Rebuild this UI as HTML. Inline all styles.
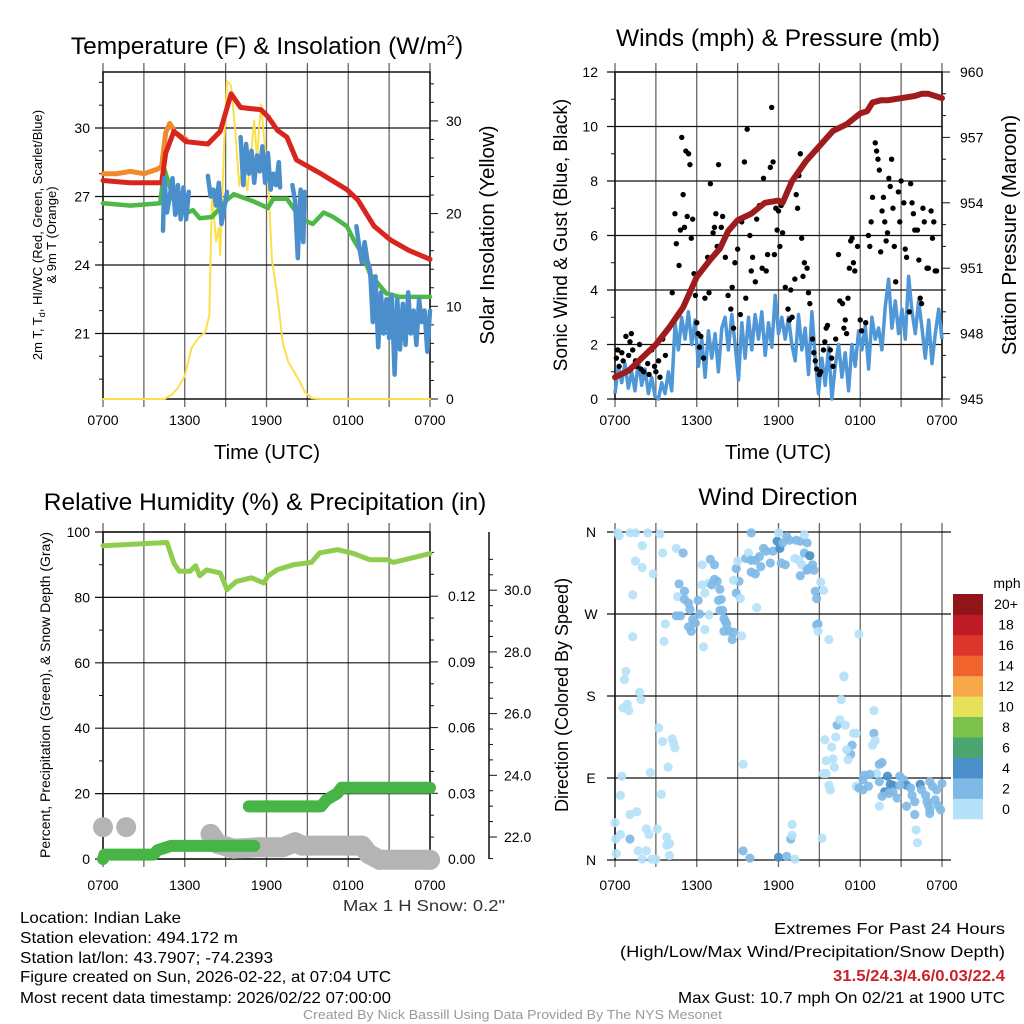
<!DOCTYPE html>
<html><head><meta charset="utf-8"><style>
html,body{margin:0;padding:0;background:#fff;}
svg{display:block;font-family:"Liberation Sans",Arial,sans-serif;}
</style></head><body>
<svg id="fig" width="1024" height="1024" viewBox="0 0 1024 1024" xmlns="http://www.w3.org/2000/svg">
<rect width="1024" height="1024" fill="#fff"/>
<g id="p1"></g>
<g id="p2"></g>
<g id="p3"></g>
<g id="p4"></g>
<g id="txt" lengthAdjust="spacingAndGlyphs">
<text x="343" y="911" font-size="16" fill="#333" textLength="162" lengthAdjust="spacingAndGlyphs">Max 1 H Snow: 0.2"</text>
<text x="20" y="923" font-size="16" textLength="161" lengthAdjust="spacingAndGlyphs">Location: Indian Lake</text>
<text x="20" y="943" font-size="16" textLength="218" lengthAdjust="spacingAndGlyphs">Station elevation: 494.172 m</text>
<text x="20" y="963" font-size="16" textLength="253" lengthAdjust="spacingAndGlyphs">Station lat/lon: 43.7907; -74.2393</text>
<text x="20" y="982" font-size="16" textLength="371" lengthAdjust="spacingAndGlyphs">Figure created on Sun, 2026-02-22, at 07:04 UTC</text>
<text x="20" y="1003" font-size="16" textLength="371" lengthAdjust="spacingAndGlyphs">Most recent data timestamp: 2026/02/22 07:00:00</text>
<text x="774" y="934" font-size="16" textLength="231" lengthAdjust="spacingAndGlyphs">Extremes For Past 24 Hours</text>
<text x="620" y="957" font-size="16" textLength="385" lengthAdjust="spacingAndGlyphs">(High/Low/Max Wind/Precipitation/Snow Depth)</text>
<text x="833" y="981" font-size="16" font-weight="bold" fill="#c8232b" textLength="172" lengthAdjust="spacingAndGlyphs">31.5/24.3/4.6/0.03/22.4</text>
<text x="678" y="1003" font-size="16" textLength="327" lengthAdjust="spacingAndGlyphs">Max Gust: 10.7 mph On 02/21 at 1900 UTC</text>
<text x="303" y="1019" font-size="12.5" fill="#999" textLength="419" lengthAdjust="spacingAndGlyphs">Created By Nick Bassill Using Data Provided By The NYS Mesonet</text>
</g>
</svg>
<script>
// ---------- DATA (hours since 0700 UTC) ----------
const timeTicks = ["0700","1300","1900","0100","0700"];
const redH = [0,2,4,4.3,4.6,5.2,6.1,7.7,8.6,9.4,10.1,11.6,12.1,12.8,13.5,14.2,16.0,17.9,18.7,19.9,21.1,22.4,24];
const redT = [27.7,27.6,27.6,27.6,28.9,29.85,29.4,29.3,29.85,31.5,30.9,30.8,30.5,29.9,29.6,28.6,28.0,27.3,26.85,25.7,25.1,24.65,24.25];
const orangeH = [0,1,2,3,4,4.3,4.6,4.9,5.3,6.1];
const orangeT = [28.0,28.0,28.1,28.0,28.2,28.3,29.8,30.2,29.8,29.5];
const greenH = [0,2,4.2,4.5,5.5,6.2,6.6,7.1,8.0,9.1,9.6,11.0,12.1,12.5,13.5,14.2,14.6,15.4,16.2,16.9,17.9,18.4,19.1,19.6,20.8,21.8,24];
const greenT = [26.7,26.6,26.7,28.2,26.3,26.3,26.4,26.05,26.1,26.85,27.1,26.8,26.5,26.9,26.9,26.3,26.0,25.8,26.3,26.1,25.7,25.1,24.4,23.6,22.75,22.6,22.6];
const blueH = [4.4,4.5,4.7,4.9,5.1,5.3,5.5,5.7,5.9,6.1,6.3,null,7.7,7.9,8.1,8.3,8.5,8.7,8.9,9.1,null,10.1,10.3,10.5,10.7,10.9,11.1,11.3,11.5,11.7,11.9,12.1,12.3,12.5,12.7,12.9,13.0,null,13.9,14.1,14.3,14.5,14.7,14.8,null,18.6,18.8,19.0,19.2,19.4,19.6,19.8,20.0,20.2,20.4,20.6,20.8,21.0,21.2,21.4,21.6,21.8,22.0,22.2,22.4,22.6,22.8,23.0,23.2,23.4,23.6,23.8,24.0];
const blueT = [25.5,27.8,26.3,27.0,27.8,26.2,27.5,26.0,27.4,26.0,27.2,null,27.9,27.0,27.3,26.6,27.6,25.8,26.5,27.2,null,29.6,27.5,29.3,28.0,29.0,27.6,28.8,28.1,29.2,27.6,28.9,27.3,28.0,27.5,28.5,27.4,null,27.5,26.8,24.3,27.3,25.0,27.2,null,25.7,24.8,24.1,25.0,24.2,23.8,21.5,23.5,20.4,22.8,21.0,22.5,20.8,22.7,19.2,22.5,20.3,22.3,20.5,22.8,21.0,22.0,20.5,22.5,21.5,22.0,20.2,22.0];
const solarH = [0,4.5,5.0,5.5,6.0,6.5,7.0,7.5,7.8,8.0,8.3,8.5,8.6,8.9,9.1,9.4,9.7,10.0,10.3,10.6,10.9,11.1,11.3,11.6,11.9,12.1,12.4,12.8,13.2,13.6,14.0,14.4,14.8,15.3,16,24];
const solarV = [0,0,0.4,1.2,2.5,5.5,6.6,7.2,9,22,17,18.5,15.5,28,34.3,33.8,29,23,25.5,22.5,27,30,26,31.8,27,24,15,11,6,4,3,2,0.8,0.1,0,0];

const presH = [0,1,2,3,4,5,6,6.5,7,7.7,8,8.3,9,10,11,12,12.3,13,14,15,16,17,18,18.5,18.9,19.5,20,21,22,22.5,23,24];
const presV = [946.0,946.3,946.9,947.5,948.3,949.2,950.6,951.0,951.4,951.9,952.3,952.7,953.2,953.5,954.0,954.1,954.0,955.0,955.9,956.6,957.3,957.6,958.1,958.2,958.6,958.7,958.7,958.8,958.9,959.0,959.0,958.8];
const windV = [0.2,1.2,0.6,1.3,0.4,1.0,0.3,1.4,0.5,1.1,0.2,0.8,0.1,0.0,0.6,0.2,1.0,0.3,
 2.8,1.8,3.0,2.2,3.2,2.0,2.9,1.2,2.2,0.8,2.5,1.5,
 2.4,1.0,2.6,3.0,1.8,3.1,2.0,0.7,2.8,
 1.5,3.0,1.8,3.1,2.2,3.2,1.6,2.8,1.9,3.8,2.4,3.0,
 2.2,3.0,2.0,1.4,3.1,1.8,2.6,0.9,3.2,1.5,
 0.2,1.5,0.5,1.9,0.0,1.2,2.0,0.8,1.7,0.3,
 2.0,1.2,2.5,1.8,2.7,1.1,3.0,2.2,2.6,1.8,
 3.4,4.4,2.6,3.6,2.4,3.3,2.2,4.5,
 3.2,2.4,3.6,2.6,1.5,2.9,1.3,2.4,3.3,2.2];
const gustH = [0.1,0.2,0.3,0.5,0.6,0.8,1.0,1.1,1.2,1.3,1.5,1.6,1.8,1.9,2.1,2.2,2.4,2.5,2.7,2.9,3.0,3.2,3.3,3.5,3.7,
 4.2,4.4,4.5,4.7,4.8,4.9,5.0,5.1,5.2,5.3,5.4,5.5,5.6,5.7,5.8,5.9,6.0,6.1,6.2,6.3,6.5,6.6,6.8,6.9,7.0,7.2,7.3,
 7.4,7.5,7.6,7.8,7.9,8.1,8.3,8.5,8.6,8.7,8.8,9.0,9.2,9.3,9.5,9.6,9.7,9.9,10.0,10.1,10.3,10.4,10.6,10.8,10.9,
 11.1,11.2,11.4,11.5,11.6,11.7,11.9,11.8,12.0,12.1,12.2,12.3,12.5,12.7,12.8,12.9,13.0,13.2,13.3,13.4,13.5,13.6,13.7,13.8,13.9,14.1,
 14.2,14.3,14.5,14.6,14.7,14.8,15.0,15.1,15.3,15.4,15.5,15.6,15.8,15.9,16.0,16.2,16.4,16.5,16.7,16.8,16.9,17.0,17.1,17.2,17.3,17.4,17.5,17.6,17.8,18.0,18.1,
 18.4,18.6,18.7,18.8,18.9,19.1,19.2,19.3,19.4,19.5,19.6,19.7,19.8,19.9,20.0,20.1,20.2,20.3,20.4,20.5,20.6,20.8,20.9,21.0,21.2,21.3,21.4,21.6,21.7,21.8,21.9,22.0,22.2,22.3,22.4,22.5,22.6,22.7,22.9,23.0,23.2,23.3,23.4,23.5,23.6];
const gustV = [1.5,1.8,1.2,1.7,1.4,2.3,1.6,2.1,2.4,1.8,1.4,1.2,2.0,1.1,1.0,1.6,1.3,0.9,1.8,1.2,1.0,1.4,0.8,2.2,1.6,
 3.9,6.8,5.7,4.9,6.2,9.6,7.5,6.3,9.1,6.7,9.0,8.6,5.9,6.6,4.6,3.8,2.8,2.4,1.9,2.3,1.5,3.7,5.2,3.9,7.9,6.1,6.3,
 6.8,5.6,8.6,6.3,6.7,5.2,3.8,3.3,4.1,2.6,5.0,5.5,3.1,6.5,8.7,3.7,9.9,6.0,4.7,5.2,4.3,6.6,7.1,4.8,8.1,
 4.7,5.3,8.5,10.7,8.7,5.3,6.2,7.0,6.9,5.6,7.1,6.1,4.1,3.3,2.9,4.0,3.0,4.4,7.5,7.0,8.2,9.0,5.9,4.5,5.0,4.8,
 3.9,3.5,2.2,1.7,1.4,1.1,0.9,1.0,1.8,2.1,2.6,2.7,1.8,1.5,1.2,2.2,5.3,3.6,3.5,2.6,2.9,2.4,3.7,4.8,5.8,5.9,5.0,4.7,5.6,2.9,2.5,
 2.8,6.0,5.6,6.5,7.4,9.4,9.1,8.8,8.4,5.4,6.9,7.4,6.5,5.8,6.1,8.1,7.8,8.8,7.0,5.6,4.3,7.6,6.5,8.0,7.2,5.5,5.2,3.2,7.9,7.2,6.8,6.2,6.2,5.1,3.7,3.5,7.0,6.5,4.8,4.8,6.9,5.9,6.5,4.7,4.7];

const rhH = [0,4.7,5.2,5.6,6.4,6.8,7.1,7.6,8.6,9.1,9.8,10.9,11.8,12.1,12.8,14.0,15.3,15.9,17.2,18.4,19.6,20.9,21.3,22.6,24];
const rhV = [95.8,96.8,90.5,88,88,89.7,86.6,88.4,87.5,82.4,84.9,86,84.4,86.5,88.5,90,90.7,93.6,94.6,93.4,91.5,91.5,90.7,92,93.4];
const precipH = [0,0.1,3.7,4.0,4.5,5.0,11.1,null,10.7,16.0,16.4,17.2,17.5,24];
const precipV = [0,0.002,0.002,0.004,0.005,0.006,0.006,null,0.024,0.024,0.027,0.030,0.0325,0.0325];
const snowH = [0,null,1.7,null,7.9,8.4,9.6,11.5,13.2,14.1,14.6,19.0,19.5,20.3,24];
const snowV = [22.32,null,22.32,null,22.1,21.78,21.62,21.67,21.67,21.83,21.72,21.72,21.45,21.26,21.26];

const dirH = [0.2,0.3,1.1,1.5,2.4,3.3,2.0,3.5,1.5,2.0,2.8,4.5,5.0,1.3,3.7,1.3,3.6,0.8,0.7,1.8,1.9,0.9,0.6,1.0,3.2,3.5,4.2,4.3,4.4,3.9,2.6,0.5,0.4,3.4,1.1,1.6,0.0,0.4,0.05,1.1,2.3,2.5,3.1,3.8,4.0,3.8,1.7,2.3,0.1,2.0,2.7,3.0,4.0,
 4.7,5.1,4.6,5.1,5.4,4.8,4.5,5.5,5.7,5.4,5.6,5.9,6.2,6.1,6.4,6.6,6.9,7.1,7.3,7.5,7.7,7.6,7.8,7.7,7.9,6.9,6.6,6.5,8.0,8.1,8.2,8.0,8.4,8.7,8.6,9.3,6.4,7.0,7.3,
 8.9,9.1,8.9,8.7,9.2,9.0,9.6,9.8,10.0,10.3,10.6,10.9,11.1,10.7,10.0,10.3,11.4,11.6,11.9,12.1,12.2,12.5,12.3,12.6,12.8,13.3,13.6,14.1,13.9,12.0,10.0,10.4,13.2,13.5,13.7,13.9,14.3,14.2,14.5,14.6,14.1,13.6,14.7,14.8,14.8,14.9,15.1,15.3,15.7,14.9,9.4,9.4,9.9,12.0,12.6,13.2,12.9,13.0,13.0,15.2,
 17.9,16.8,16.8,16.6,16.3,16.5,16.9,17.5,17.7,17.4,17.3,17.1,17.0,16.2,15.9,16.0,16.1,15.5,15.4,15.3,15.5,15.7,15.8,19.0,19.0,19.1,18.9,19.4,19.6,19.2,17.7,17.9,18.2,18.3,18.7,18.6,18.2,19.4,20.0,20.2,20.4,19.8,20.1,19.6,20.7,20.9,21.2,21.4,21.7,21.8,22.0,22.4,22.5,22.8,22.9,23.1,23.3,23.6,23.5,23.7,24.0,23.9,23.1,23.0,21.4,22.0,23.1,22.1,22.2,19.4,20.9,20.4];
const dirDeg = [359,356,359,359,359,358,345,337,328,321,314,342,337,291,259,245,240,207,198,184,176,171,167,164,145,130,133,128,123,102,96,92,71,72,50,53,41,28,23,23,34,28,34,25,18,16,10,10,7,1,1,1,5,
 303,295,289,286,282,268,268,275,264,256,251,260,270,285,302,293,304,302,308,306,297,285,286,274,274,269,253,234,265,262,259,251,251,250,242,246,324,330,324,
 320,306,293,307,287,328,331,337,329,329,333,342,339,322,316,314,326,339,350,342,326,324,348,355,351,351,350,348,357,359,359,277,331,329,324,337,334,320,324,318,318,312,295,287,258,259,305,296,242,251,105,10,2,3,4,1,23,27,39,24,
 248,201,202,176,148,154,148,139,139,126,116,110,121,135,124,111,102,109,132,95,95,82,77,164,139,131,126,105,107,95,81,79,88,93,94,81,77,86,92,83,82,75,73,70,68,92,88,82,79,71,64,83,77,71,64,86,81,77,66,60,84,55,55,60,59,50,51,33,19,59,82,75];
const dirSpd = [1,1,1,1,1,1,1,1,1,1,1,1,3,1,1,1,1,1,1,1,1,1,1,1,1,1,1,1,1,1,1,1,1,1,1,1,1,1,1,3,1,1,1,1,1,1,1,1,1,1,1,1,1,
 3,3,1,3,3,3,3,3,3,3,3,3,3,3,1,1,1,3,3,3,3,3,3,3,3,1,1,1,3,3,3,3,3,3,3,1,1,3,3,
 3,3,3,1,1,1,3,1,3,3,3,3,3,3,3,3,3,3,4.5,4.5,3,3,3,3,3,3,3,3,1,1,3,1,1,1,1,3,4.5,3,3,3,3,3,3,3,3,3,1,1,1,1,1,3,3,4.5,3,1,3,1,1,1,
 1,1,1,1,3,1,1,1,1,3,3,1,1,1,1,1,1,1,1,1,1,1,1,1,3,1,1,3,3,1,1,3,3,3,3,3,3,3,4.5,4.5,4.5,4.5,3,3,3,3,3,4.5,3,3,3,4.5,3,3,3,3,3,3,3,3,3,3,3,3,3,3,3,1,1,1,3,3,3];
const cbarLabels = ["0","2","4","6","8","10","12","14","16","18","20+"];
const cbarColors = ["#b5e2f8","#7fbae6","#4a8fc7","#4aa56f","#7cc14c","#e7e15a","#f7a848","#f0632d","#dd352b","#bd1c26","#8f1519"];

// ---------- helpers ----------
const NS="http://www.w3.org/2000/svg";
function mk(parent,tag,attrs,text){const e=document.createElementNS(NS,tag);for(const k in attrs)e.setAttribute(k,attrs[k]);if(text!==undefined)e.textContent=text;parent.appendChild(e);return e;}
function pathD(xs,ys,fx,fy){let d="",pen=false;for(let i=0;i<xs.length;i++){if(xs[i]===null||ys[i]===null){pen=false;continue;}d+=(pen?"L":"M")+fx(xs[i]).toFixed(1)+","+fy(ys[i]).toFixed(1);pen=true;}return d;}
const W=327;
function vgrid(g,x0,yTop,yBot){for(let k=0;k<=8;k++){const x=x0+k*W/8;const l=mk(g,"line",{x1:x,x2:x,y1:yTop,y2:yBot,stroke:"#666","stroke-width":1.3});}}
function xLabels(g,x0,y,fs){timeTicks.forEach((t,i)=>{const e=mk(g,"text",{x:x0+i*W/4,y:y,"font-size":fs,"text-anchor":"middle"},t);});}

// ---------- Panel 1 ----------
(function(){
const g=document.getElementById("p1");
const X=h=>103+h*W/24, yT=t=>128+(30-t)*22.83, yS=s=>399-s*9.27;
mk(g,"text",{x:267,y:54,"font-size":24.5,"text-anchor":"middle",}).innerHTML='Temperature (F) &amp; Insolation (W/m<tspan dy="-9" font-size="15">2</tspan><tspan dy="9">)</tspan>';
vgrid(g,103,63,407);
[21,24,27,30].forEach(t=>{mk(g,"line",{x1:95,x2:430,y1:yT(t),y2:yT(t),stroke:"#111","stroke-width":1.2});const e=mk(g,"text",{x:90,y:yT(t)+5,"font-size":14,"text-anchor":"end"},String(t));});
for(let t=19;t<=32;t++){mk(g,"line",{x1:99,x2:103,y1:yT(t),y2:yT(t),stroke:"#111"});}
for(let s=0;s<=34;s+=2){const big=s%10===0;mk(g,"line",{x1:430,x2:big?438:434,y1:yS(s),y2:yS(s),stroke:"#111"});if(big){const e=mk(g,"text",{x:446,y:yS(s)+5,"font-size":14},String(s));}}
mk(g,"rect",{x:103,y:72,width:W,height:327,fill:"none",stroke:"#111","stroke-width":1.5,});
const add=(xs,ys,fy,c,w,n)=>{const p=mk(g,"path",{d:pathD(xs,ys,X,fy),fill:"none",stroke:c,"stroke-width":w,"stroke-linejoin":"round","stroke-linecap":"round"});};
add(solarH,solarV,yS,"#fbe04c",2,"solar-insolation-line");
add(orangeH,orangeT,yT,"#f08a2c",5,"temp-9m-line");
add(greenH,greenT,yT,"#4cb845",4.5,"dewpoint-line");
add(redH,redT,yT,"#d8261f",5,"temp-2m-line");
add(blueH,blueT,yT,"#4a8fcc",4.5,"windchill-line");
xLabels(g,103,425,14);
mk(g,"text",{x:267,y:459,"font-size":20.5,"text-anchor":"middle",},"Time (UTC)");
mk(g,"text",{transform:"translate(42,235) rotate(-90)","font-size":13,"text-anchor":"middle",}).innerHTML='2m T, T<tspan dy="3" font-size="9">d</tspan><tspan dy="-3">, HI/WC (Red, Green, Scarlet/Blue)</tspan>';
mk(g,"text",{transform:"translate(56,235) rotate(-90)","font-size":13,"text-anchor":"middle",},"& 9m T (Orange)");
mk(g,"text",{transform:"translate(494,235) rotate(-90)","font-size":20.5,"text-anchor":"middle",},"Solar Insolation (Yellow)");
})();

// ---------- Panel 2 ----------
(function(){
const g=document.getElementById("p2");
const X=h=>615+h*W/24, yW=v=>399-v*27.25, yP=p=>399-(p-945)*21.8;
mk(g,"text",{x:778,y:46,"font-size":24.5,"text-anchor":"middle",},"Winds (mph) & Pressure (mb)");
vgrid(g,615,63,407);
for(let v=0;v<=12;v++){const big=v%2===0;if(big){mk(g,"line",{x1:607,x2:942,y1:yW(v),y2:yW(v),stroke:"#111","stroke-width":1.2});const e=mk(g,"text",{x:598,y:yW(v)+5,"font-size":14,"text-anchor":"end"},String(v));}else mk(g,"line",{x1:611,x2:615,y1:yW(v),y2:yW(v),stroke:"#111"});}
for(let p=945;p<=960;p++){const big=(p-945)%3===0;mk(g,"line",{x1:942,x2:big?950:946,y1:yP(p),y2:yP(p),stroke:"#111"});if(big){const e=mk(g,"text",{x:960,y:yP(p)+5,"font-size":14},String(p));}}
mk(g,"rect",{x:615,y:72,width:W,height:327,fill:"none",stroke:"#111","stroke-width":1.5,});
const wH=windV.map((v,i)=>i*24/(windV.length-1));
const wl=mk(g,"path",{d:pathD(wH,windV,X,yW),fill:"none",stroke:"#4f97d6","stroke-width":3.5,"stroke-linejoin":"round"});


gustH.forEach((h,i)=>{const c=mk(g,"circle",{cx:X(h),cy:yW(gustV[i]),r:2.7,fill:"#000"});});
const pl=mk(g,"path",{d:pathD(presH,presV,X,yP),fill:"none",stroke:"#a01b1d","stroke-width":6,"stroke-linejoin":"round","stroke-linecap":"round"});


xLabels(g,615,425,14);
mk(g,"text",{x:778,y:459,"font-size":20.5,"text-anchor":"middle",},"Time (UTC)");
mk(g,"text",{transform:"translate(567,235) rotate(-90)","font-size":19,"text-anchor":"middle",},"Sonic Wind & Gust (Blue, Black)");
mk(g,"text",{transform:"translate(1016,235) rotate(-90)","font-size":20.5,"text-anchor":"middle",},"Station Pressure (Maroon)");
})();

// ---------- Panel 3 ----------
(function(){
const g=document.getElementById("p3");
const X=h=>103+h*W/24, yR=r=>859-r*3.27, yPr=p=>859-p*2190, ySn=s=>837-(s-22)*30.85;
mk(g,"text",{x:265,y:510,"font-size":24.5,"text-anchor":"middle",},"Relative Humidity (%) & Precipitation (in)");
vgrid(g,103,523,867);
for(let r=0;r<=100;r+=10){const big=r%20===0;if(big){mk(g,"line",{x1:95,x2:430,y1:yR(r),y2:yR(r),stroke:"#111","stroke-width":1.2});const e=mk(g,"text",{x:90,y:yR(r)+5,"font-size":14,"text-anchor":"end"},String(r));}else mk(g,"line",{x1:99,x2:103,y1:yR(r),y2:yR(r),stroke:"#111"});}
for(let k=0;k<=14;k++){const p=k*0.01;const big=k%3===0;mk(g,"line",{x1:430,x2:big?438:434,y1:yPr(p),y2:yPr(p),stroke:"#111"});if(big){const e=mk(g,"text",{x:448,y:yPr(p)+5,"font-size":14},p.toFixed(2));}}
mk(g,"line",{x1:489,x2:489,y1:532,y2:859,stroke:"#111","stroke-width":1.5,});
for(let s=22;s<=31;s+=0.5){const big=s%2===0;mk(g,"line",{x1:489,x2:big?497:493,y1:ySn(s),y2:ySn(s),stroke:"#111"});if(big){const e=mk(g,"text",{x:504,y:ySn(s)+5,"font-size":14},s.toFixed(1));}}
mk(g,"line",{x1:489,x2:493,y1:ySn(21.3),y2:ySn(21.3),stroke:"#111"});
mk(g,"rect",{x:103,y:532,width:W,height:327,fill:"none",stroke:"#111","stroke-width":1.5,});
const sp=mk(g,"path",{d:pathD(snowH,snowV,X,ySn),fill:"none",stroke:"#b4b4b4","stroke-width":20,"stroke-linecap":"round","stroke-linejoin":"round"});


snowH.forEach((h,i)=>{if(h===null)return;const c=mk(g,"circle",{cx:X(h),cy:ySn(snowV[i]),r:10,fill:"#b4b4b4"});});
const pp=mk(g,"path",{d:pathD(precipH,precipV,X,yPr),fill:"none",stroke:"#47b545","stroke-width":12,"stroke-linecap":"round","stroke-linejoin":"round"});


const rp=mk(g,"path",{d:pathD(rhH,rhV,X,yR),fill:"none",stroke:"#8fcd4f","stroke-width":5,"stroke-linejoin":"round","stroke-linecap":"round"});


xLabels(g,103,890,14);
mk(g,"text",{transform:"translate(50,695) rotate(-90)","font-size":14,"text-anchor":"middle",},"Percent, Precipitation (Green), & Snow Depth (Gray)");
})();

// ---------- Panel 4 ----------
(function(){
const g=document.getElementById("p4");
const X=h=>615+h*W/24, yD=d=>860-d*328/360;
mk(g,"text",{x:778,y:505,"font-size":24.5,"text-anchor":"middle",},"Wind Direction");
vgrid(g,615,523,867);
["N","E","S","W","N"].forEach((l,i)=>{const d=i*90;mk(g,"line",{x1:607,x2:951,y1:yD(d),y2:yD(d),stroke:"#111","stroke-width":1.2});const e=mk(g,"text",{x:591,y:yD(d)+5,"font-size":14,"text-anchor":"middle"},l);});
mk(g,"line",{x1:615,x2:615,y1:532,y2:860,stroke:"#111","stroke-width":1.5});
function col(s){let i=Math.min(10,Math.floor(s/2));return cbarColors[i];}
dirH.forEach((h,i)=>{const c=mk(g,"circle",{cx:X(h),cy:yD(dirDeg[i]),r:4.6,fill:col(dirSpd[i]),"fill-opacity":0.92});});
xLabels(g,615,890,14);
mk(g,"text",{transform:"translate(568,695) rotate(-90)","font-size":18,"text-anchor":"middle",},"Direction (Colored By Speed)");
const bh=225/11;
cbarColors.forEach((c,i)=>{const y=819-(i+1)*bh;const r=mk(g,"rect",{x:953,y:y,width:30,height:bh+0.3,fill:c});const t=mk(g,"text",{x:1006,y:y+bh/2+5,"font-size":14,"text-anchor":"middle"},cbarLabels[i]);});
mk(g,"text",{x:1007,y:588,"font-size":14,"text-anchor":"middle",},"mph");
})();
</script>
</body></html>
